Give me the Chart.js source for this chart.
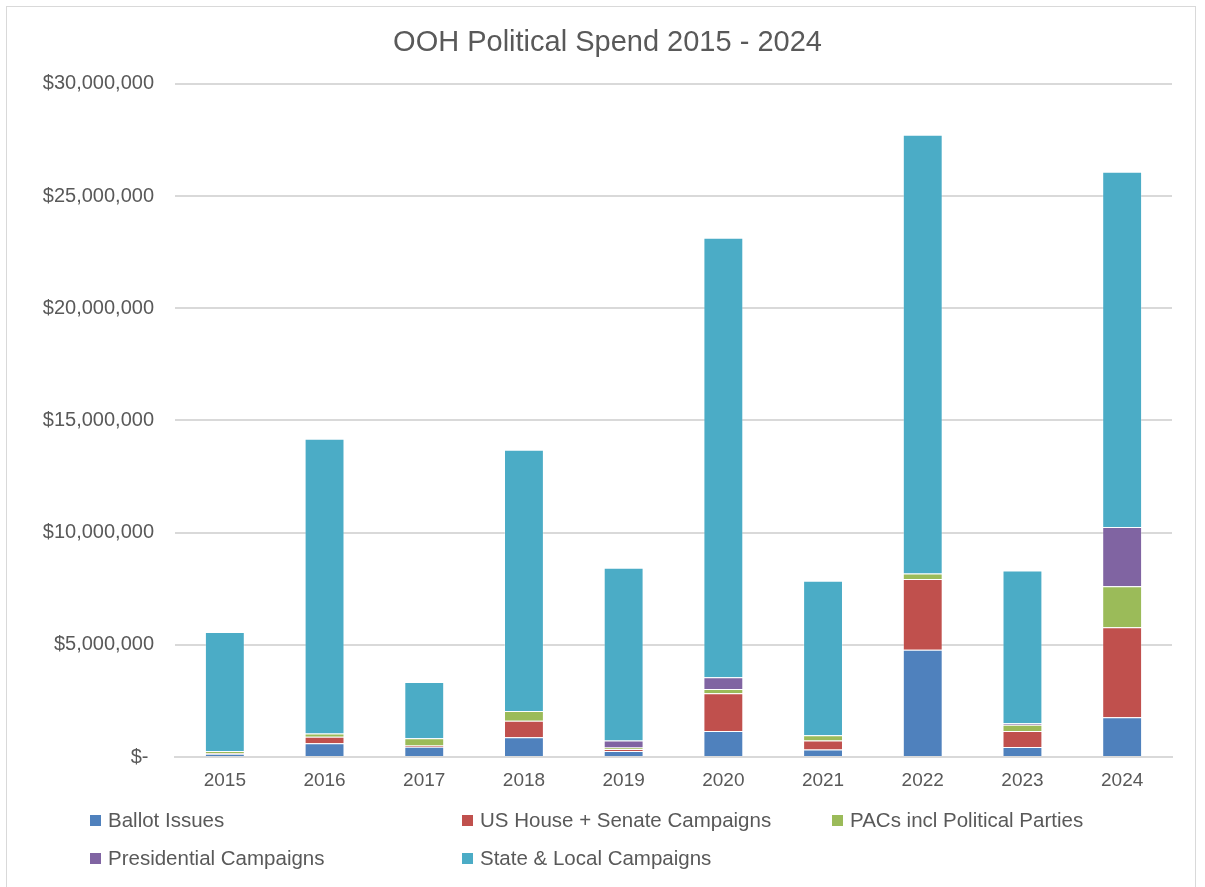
<!DOCTYPE html>
<html lang="en">

<head>
    <meta charset="UTF-8">
    <title>OOH Political Spend</title>
    <script src="https://cdn.jsdelivr.net/npm/chart.js"></script>
    <style>
        body {
            margin: 0;
            background: #ffffff;
        }

        .janela {
            position: relative;
            width: 1205px;
            height: 887px;
            overflow: hidden;
        }

        .moldura {
            position: absolute;
            left: 6px;
            top: 6px;
            width: 1190px;
            height: 900px;
            border: 1.5px solid #d9d9d9;
            box-sizing: border-box;
        }

        #grafico {
            position: absolute;
            left: 0;
            top: 0;
        }

        .legenda {
            position: absolute;
            left: 90px;
            top: 808px;
            display: grid;
            grid-template-columns: 372px 370px 370px;
            row-gap: 14px;
            font-family: "Liberation Sans", sans-serif;
            font-size: 20.5px;
            color: #595959;
        }

        .legenda div {
            display: flex;
            align-items: center;
            height: 24px;
        }

        .legenda span {
            display: inline-block;
            width: 11px;
            height: 11px;
            margin-right: 7px;
        }
    </style>
</head>

<body>
    <div class="janela">
        <div class="moldura"></div>
        <canvas id="grafico" width="1205" height="887"></canvas>
        <div class="legenda" id="legenda"></div>
    </div>

    <script>
        // anos do eixo X
        const anos = ['2015', '2016', '2017', '2018', '2019', '2020', '2021', '2022', '2023', '2024'];

        // gasto por categoria, em milhoes de dolares
        const ballotIssues = [0.15, 0.61, 0.46, 0.88, 0.27, 1.16, 0.33, 4.78, 0.45, 1.77];
        const houseSenate = [0.02, 0.29, 0.05, 0.74, 0.09, 1.68, 0.40, 3.15, 0.71, 4.01];
        const pacs = [0.10, 0.15, 0.33, 0.43, 0.06, 0.19, 0.24, 0.25, 0.28, 1.83];
        const presidential = [0, 0, 0, 0, 0.31, 0.52, 0, 0, 0.06, 2.64];
        const stateLocal = [5.30, 13.13, 2.50, 11.64, 7.70, 19.59, 6.88, 19.55, 6.81, 15.83];

        // marcas do eixo Y
        const ticksY = [0, 5000000, 10000000, 15000000, 20000000, 25000000, 30000000];

        const series = [
            { nome: 'Ballot Issues', valores: ballotIssues, cor: '#4F81BD' },
            { nome: 'US House + Senate Campaigns', valores: houseSenate, cor: '#C0504D' },
            { nome: 'PACs incl Political Parties', valores: pacs, cor: '#9BBB59' },
            { nome: 'Presidential Campaigns', valores: presidential, cor: '#8064A2' },
            { nome: 'State & Local Campaigns', valores: stateLocal, cor: '#4BACC6' }
        ];

        const fonte = "'Liberation Sans', sans-serif";
        const cinza = '#595959';

        // formato contabil: zero vira "$-"
        function formatarDolar(valor) {
            if (valor === 0) return '$- ';
            return '$' + valor.toLocaleString('en-US');
        }

        const ctx = document.getElementById('grafico');

        new Chart(ctx, {
            type: 'bar',
            data: {
                labels: anos,
                datasets: series.map(s => ({
                    label: s.nome,
                    data: s.valores.map(v => v * 1000000),
                    backgroundColor: s.cor,
                    borderColor: 'rgba(255, 255, 255, 0.25)',
                    borderWidth: 1,
                    barPercentage: 0.4,
                    categoryPercentage: 1
                }))
            },
            options: {
                responsive: false,
                animation: false,
                layout: {
                    padding: { left: 43, right: 33, top: 0, bottom: 0 }
                },
                plugins: {
                    legend: { display: false },
                    tooltip: { enabled: false },
                    title: {
                        display: true,
                        text: 'OOH Political Spend 2015 - 2024',
                        color: cinza,
                        font: { family: fonte, size: 29, weight: 'normal' },
                        padding: { top: 26, bottom: 23 }
                    }
                },
                scales: {
                    x: {
                        stacked: true,
                        grid: { display: false, drawTicks: false },
                        border: { color: '#d9d9d9', width: 2 },
                        ticks: {
                            color: cinza,
                            padding: 12,
                            font: { family: fonte, size: 19 }
                        },
                        afterFit: function (escala) {
                            escala.height = 130;
                        }
                    },
                    y: {
                        stacked: true,
                        min: 0,
                        max: 30000000,
                        afterBuildTicks: function (escala) {
                            escala.ticks = ticksY.map(v => ({ value: v }));
                        },
                        grid: { color: '#d9d9d9', lineWidth: 2, drawTicks: false },
                        border: { display: false },
                        ticks: {
                            color: cinza,
                            padding: 21,
                            font: { family: fonte, size: 20 },
                            callback: function (valor) {
                                return formatarDolar(valor);
                            }
                        },
                        afterFit: function (escala) {
                            escala.width = 132;
                        }
                    }
                }
            }
        });

        // legenda em tres colunas
        const legenda = document.getElementById('legenda');
        series.forEach(s => {
            const item = document.createElement('div');
            item.innerHTML = '<span style="background:' + s.cor + '"></span>' + s.nome;
            legenda.appendChild(item);
        });
    </script>
</body>

</html>
